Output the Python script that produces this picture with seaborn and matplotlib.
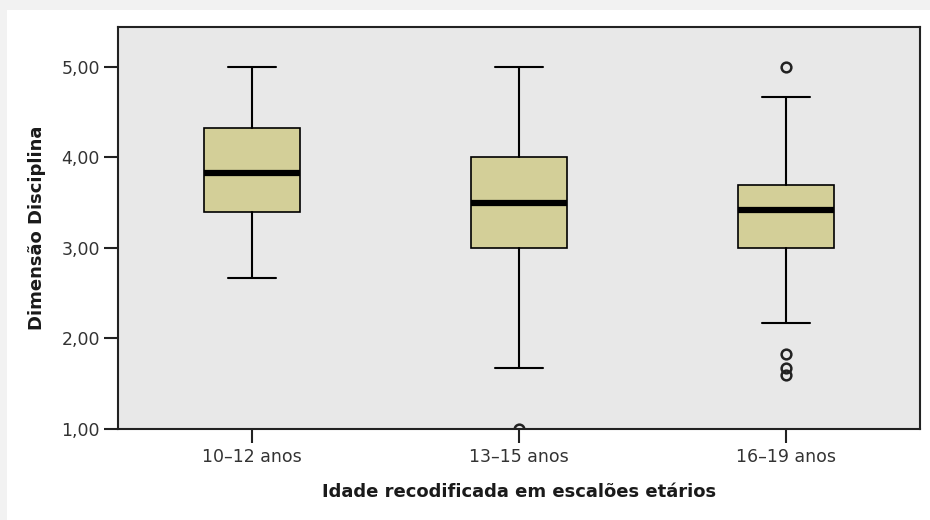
import matplotlib
matplotlib.use("Agg")
import matplotlib.pyplot as plt
import matplotlib.patches as mpatches
import seaborn as sns

# summary values
groups = ["10–12 anos", "13–15 anos", "16–19 anos"]
whisker_low = [2.67, 1.67, 2.17]
q1 = [3.40, 3.00, 3.00]
median = [3.83, 3.50, 3.42]
q3 = [4.33, 4.00, 3.70]
whisker_high = [5.00, 5.00, 4.67]
outliers = [[], [1.00], [5.00, 1.83, 1.67, 1.60]]

yticks = [1.0, 2.0, 3.0, 4.0, 5.0]
ytick_labels = ["1,00", "2,00", "3,00", "4,00", "5,00"]

sns.set_theme(style="white")
plt.rcParams["font.family"] = ["DejaVu Sans"]

fig = plt.figure(figsize=(9.3, 5.2), dpi=100, facecolor="#f2f2f2")
# white panel inside the light grey frame
fig.patches.append(mpatches.Rectangle((7 / 930, 0), 1, 510 / 520, transform=fig.transFigure,
                                      facecolor="white", edgecolor="none", zorder=-1))

ax = fig.add_axes([118 / 930, 91 / 520, 802 / 930, 402 / 520])
ax.set_facecolor("#e8e8e8")

stats = []
for i, name in enumerate(groups):
    stats.append({
        "label": name,
        "whislo": whisker_low[i],
        "q1": q1[i],
        "med": median[i],
        "q3": q3[i],
        "whishi": whisker_high[i],
        "fliers": outliers[i],
    })

ax.bxp(stats, positions=range(len(groups)), widths=0.36, patch_artist=True,
       showfliers=True,
       boxprops=dict(facecolor="#d3cf98", edgecolor="black", linewidth=1.2),
       medianprops=dict(color="black", linewidth=4.5, solid_capstyle="butt"),
       whiskerprops=dict(color="black", linewidth=1.5),
       capprops=dict(color="black", linewidth=1.5),
       capwidths=0.18,
       flierprops=dict(marker="o", markerfacecolor="none", markeredgecolor="#222222",
                       markersize=7, markeredgewidth=1.8))

ax.set_xlim(-0.5, 2.5)
ax.set_ylim(1.0, 5.44)
ax.set_yticks(yticks)
ax.set_yticklabels(ytick_labels)
ax.set_xticks(range(len(groups)))
ax.set_xticklabels(groups)

for side in ["left", "bottom", "top", "right"]:
    ax.spines[side].set_visible(True)
    ax.spines[side].set_color("#222222")
    ax.spines[side].set_linewidth(1.5)

ax.tick_params(axis="both", which="major", direction="out", length=10, width=1.5,
               color="#222222", labelsize=12.5, labelcolor="#333333",
               left=True, bottom=True)
ax.tick_params(axis="x", pad=4)
ax.tick_params(axis="y", pad=3)

ax.set_xlabel("Idade recodificada em escalões etários", fontsize=13, fontweight="bold",
              color="#1a1a1a", labelpad=12)
ax.set_ylabel("Dimensão Disciplina", fontsize=13, fontweight="bold", color="#1a1a1a",
              labelpad=11)

fig.savefig("out.png", dpi=100, facecolor=fig.get_facecolor())
